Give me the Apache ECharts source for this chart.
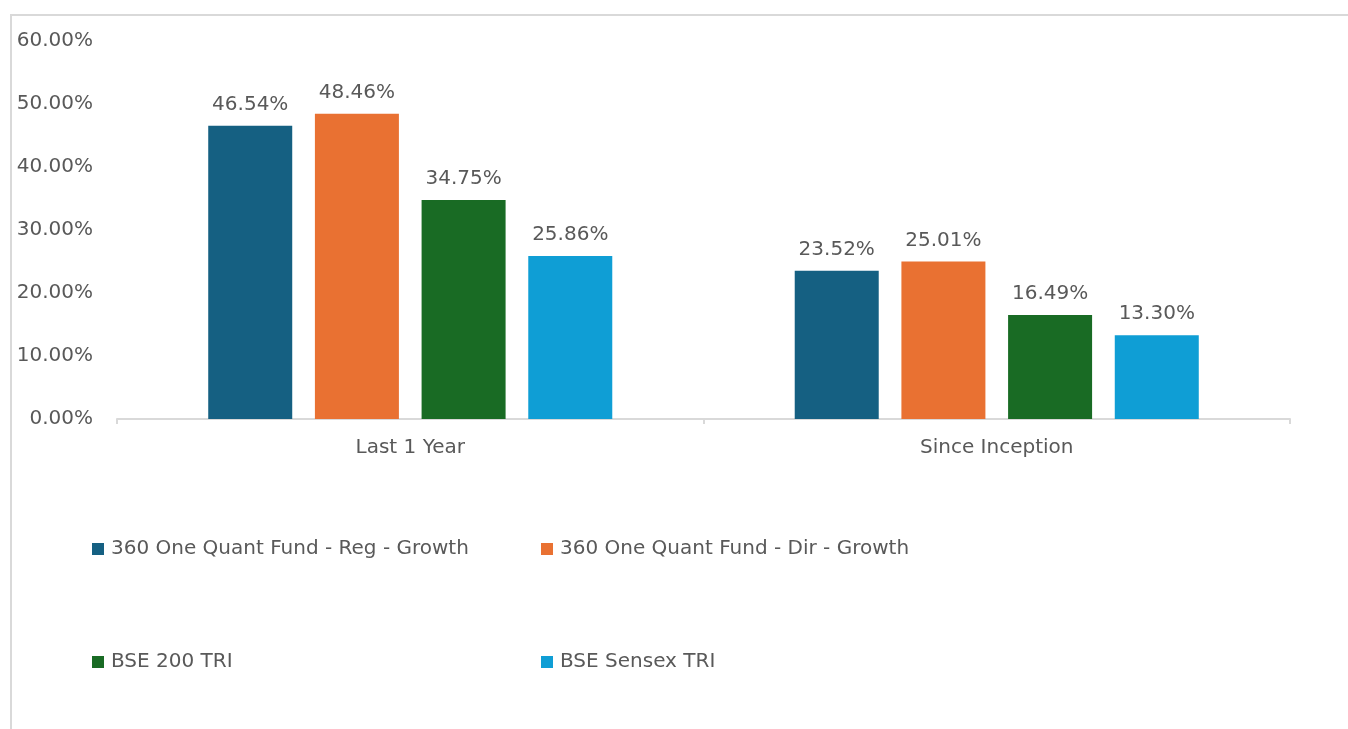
<!DOCTYPE html>
<html>
<head>
<meta charset="utf-8">
<script src="https://cdn.jsdelivr.net/npm/echarts@6/dist/echarts.min.js"></script>
<style>
  html, body { margin: 0; padding: 0; background: #fff; }
  #chart { width: 1348px; height: 729px; }
</style>
</head>
<body>
<div id="chart"></div>
<script>
const categories = ['Last 1 Year', 'Since Inception'];
const seriesNames = [
  '360 One Quant Fund - Reg - Growth',
  '360 One Quant Fund - Dir - Growth',
  'BSE 200 TRI',
  'BSE Sensex TRI'
];
const regGrowth = [46.54, 23.52];
const dirGrowth = [48.46, 25.01];
const bse200 = [34.75, 16.49];
const sensex = [25.86, 13.30];
const colors = ['#156082', '#e97132', '#196b24', '#0f9ed5'];

const font = 'DejaVu Sans';
const chart = echarts.init(document.getElementById('chart'));

const values = [regGrowth, dirGrowth, bse200, sensex];
const series = values.map((v, i) => ({
  name: seriesNames[i],
  type: 'bar',
  data: v,
  barWidth: 84,
  barGap: '27%',
  itemStyle: { color: colors[i] },
  label: {
    show: true,
    position: 'top',
    distance: 11,
    color: '#595959',
    fontFamily: font,
    fontSize: 20,
    formatter: p => p.value.toFixed(2) + '%'
  }
}));

// legend laid out in two columns, two rows
const legendPos = [[87, 534], [536, 534], [87, 647], [536, 647]];
const legends = seriesNames.map((n, i) => ({
  data: [n],
  left: legendPos[i][0],
  top: legendPos[i][1],
  icon: 'rect',
  itemWidth: 12,
  itemHeight: 12,
  itemGap: 6,
  selectedMode: false,
  textStyle: { color: '#595959', fontFamily: font, fontSize: 20, padding: [0, 0, 0, 2] }
}));

chart.setOption({
  backgroundColor: '#fff',
  animation: false,
  graphic: [{
    type: 'polyline',
    shape: { points: [[11, 729], [11, 15], [1348, 15]] },
    style: { stroke: '#d9d9d9', lineWidth: 2, fill: null }
  }],
  grid: { left: 117, right: 58, top: 41, bottom: 310 },
  legend: legends,
  xAxis: {
    type: 'category',
    data: categories,
    axisLine: { lineStyle: { color: '#d9d9d9', width: 2 } },
    axisTick: { show: true, length: 5, lineStyle: { color: '#d9d9d9', width: 2 } },
    axisLabel: { color: '#595959', fontFamily: font, fontSize: 20, margin: 19 }
  },
  yAxis: {
    type: 'value',
    min: 0,
    max: 60,
    interval: 10,
    splitLine: { show: false },
    axisLine: { show: false },
    axisLabel: {
      color: '#595959',
      fontFamily: font,
      fontSize: 20,
      margin: 24,
      formatter: v => v.toFixed(2) + '%'
    }
  },
  series: series
});
</script>
</body>
</html>
